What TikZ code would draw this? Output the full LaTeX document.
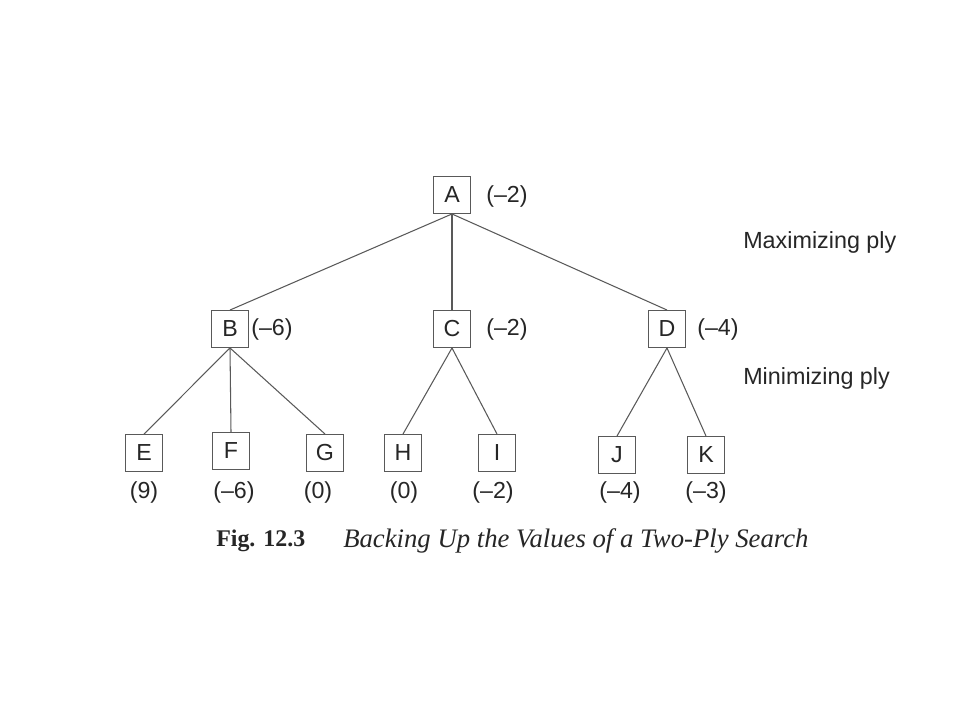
\documentclass[tikz,border=0pt]{standalone}
\usepackage{fontspec}
\setmainfont{Liberation Serif}
\setsansfont{Liberation Sans}
\usetikzlibrary{positioning}

\tikzset{
	ply/.style={draw=black!65, line width=0.8pt, minimum size=0.92cm, inner sep=0pt,
		text=black!85, font=\sffamily\fontsize{16.5}{16.5}\selectfont},
	score/.style={text=black!85, font=\sffamily\fontsize{16.5}{16.5}\selectfont, inner sep=0pt},
	level/.style={text=black!85, font=\sffamily\fontsize{16.6}{16.6}\selectfont, anchor=west, inner sep=0pt},
	caption/.style={text=black!85, anchor=west, inner sep=0pt},
}

\begin{document}
\begin{tikzpicture}[x=0.025cm,y=-0.025cm]
	\useasboundingbox (0,0) rectangle (960,720);
	\draw [black!65, line width=0.75pt]
		node [ply] (A) at (452,195) {A}
		node [ply] (B) at (230,329) {B}
		node [ply] (C) at (452,329) {C}
		node [ply] (D) at (667,329) {D}
		node [ply] (E) at (144,453) {E}
		node [ply] (F) at (231,451) {F}
		node [ply] (G) at (325,453) {G}
		node [ply] (H) at (403,453) {H}
		node [ply] (I) at (497,453) {I}
		node [ply] (J) at (617,455) {J}
		node [ply] (K) at (706,455) {K}

		(A.south) edge (B.north)
		(A.south) edge (C.north)
		(A.south) edge (D.north)
		(B.south) edge (E.north)
		(B.south) edge (F.north)
		(B.south) edge (G.north)
		(C.south) edge (H.north)
		(C.south) edge (I.north)
		(D.south) edge (J.north)
		(D.south) edge (K.north)
	;

	% backed-up values
	\node [score, anchor=west] (vA) at (486,197) {(–2)};
	\node [score, anchor=west] (vB) at (251,329) {(–6)};
	\node [score, anchor=west] (vC) at (486,329) {(–2)};
	\node [score, anchor=west] (vD) at (697,329) {(–4)};
	\node [score] (vE) at (144,492) {(9)};
	\node [score] (vF) at (234,492) {(–6)};
	\node [score] (vG) at (318,492) {(0)};
	\node [score] (vH) at (404,492) {(0)};
	\node [score] (vI) at (493,492) {(–2)};
	\node [score] (vJ) at (620,492) {(–4)};
	\node [score] (vK) at (706,492) {(–3)};

	\node [level] (max) at (743,242) {Maximizing ply};
	\node [level] (min) at (743,378) {Minimizing ply};

	\node [caption, font=\fontsize{17}{17}\selectfont] (fig) at (216,541) {\textbf{Fig. 12.3}};
	\node [caption, font=\fontsize{19}{19}\selectfont] (title) at (343,541) {\textit{Backing Up the Values of a Two-Ply Search}};
\end{tikzpicture}
\end{document}
